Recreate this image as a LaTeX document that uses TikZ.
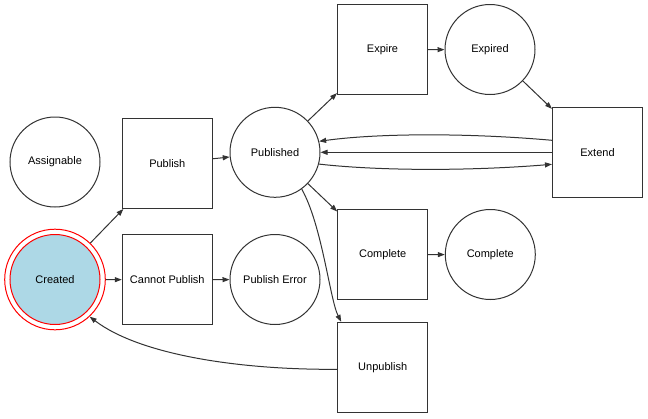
\documentclass[tikz,border=0pt]{standalone}
\usepackage{fontspec}
\setmainfont{Liberation Sans}
\usetikzlibrary{arrows.meta}
\definecolor{edge}{HTML}{333333}
\definecolor{lblue}{RGB}{173,216,230}
\begin{document}
\begin{tikzpicture}[x=1pt,y=-1pt,
  lbl/.style={font=\fontsize{11}{13}\selectfont},
  statenode/.style={lbl, circle, draw=edge, line width=1pt, minimum size=90pt, inner sep=0pt},
  actionnode/.style={lbl, rectangle, draw=edge, line width=1pt, minimum size=90pt, inner sep=0pt},
  arr/.style={draw=edge, line width=1pt, -{Triangle[length=7pt,width=5pt]}}]
\useasboundingbox (0,0) rectangle (648,418);

% nodes
\node[statenode] (Assignable) at (55,162) {Assignable};
\node[circle, draw=red, line width=1pt, minimum size=100.6pt, inner sep=0pt] (Createdo) at (55,279.5) {};
\node[statenode, draw=red, fill=lblue] (Created) at (55,279.5) {Created};
\node[actionnode] (Publish) at (167.3,163.5) {Publish};
\node[actionnode] (CannotPublish) at (167.3,279.8) {Cannot Publish};
\node[statenode] (Published) at (275,152.3) {Published};
\node[statenode] (PublishError) at (275,279.5) {Publish Error};
\node[actionnode] (Expire) at (382.5,49.8) {Expire};
\node[statenode] (Expired) at (490,49.5) {Expired};
\node[actionnode] (Extend) at (597.5,152.3) {Extend};
\node[actionnode] (CompleteA) at (382.7,254.7) {Complete};
\node[statenode] (CompleteS) at (490.3,254.5) {Complete};
\node[actionnode] (Unpublish) at (382.7,367.3) {Unpublish};

% connectors
\draw[arr] (Createdo) -- (Publish);
\draw[arr] (Createdo) -- (CannotPublish);
\draw[arr] (Publish) -- (Published);
\draw[arr] (CannotPublish) -- (PublishError);
\draw[arr] (Published) -- (Expire);
\draw[arr] (Expire) -- (Expired);
\draw[arr] (Expired) -- (Extend);
\draw[arr] (Published) -- (CompleteA);
\draw[arr] (CompleteA) -- (CompleteS);
\draw[arr] ([yshift=12pt]Extend.west) .. controls (470,133) and (380,133) .. (Published.14);
\draw[arr] (Extend.west) -- (Published.east);
\draw[arr] (Published.-15) .. controls (380,171) and (470,171) .. ([yshift=-12pt]Extend.west);
\draw[arr] (Published.-54) .. controls (322,225) and (330,300) .. ([xshift=4pt]Unpublish.north west);
\draw[arr] ([yshift=-2pt]Unpublish.west) .. controls (240,370) and (140,355) .. (Createdo.-47);
\end{tikzpicture}
\end{document}
